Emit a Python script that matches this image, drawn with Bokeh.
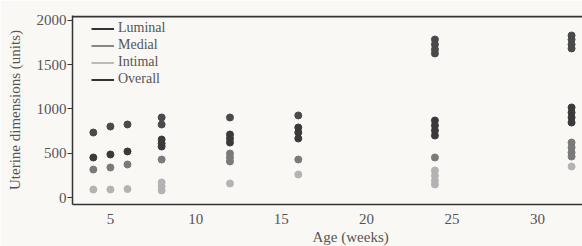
from bokeh.plotting import figure
from bokeh.models import Range1d, Legend, LegendItem, FixedTicker, Title
from bokeh.embed import file_html
from bokeh.resources import INLINE

# Data (age in weeks, dimension in units)
overall_age = [4, 5, 6, 8, 8, 12, 16, 24, 24, 24, 24, 32, 32, 32, 32]
overall_val = [734, 802, 825, 904, 825, 904, 927, 1785, 1729, 1672, 1627, 1830, 1785, 1729, 1684]
luminal_age = [4, 5, 6, 8, 8, 8, 12, 12, 12, 16, 16, 16, 24, 24, 24, 24, 32, 32, 32, 32]
luminal_val = [452, 486, 520, 655, 610, 576, 712, 667, 621, 791, 734, 667, 870, 814, 757, 700, 1017, 960, 904, 847]
medial_age = [4, 5, 6, 8, 12, 12, 12, 16, 24, 32, 32, 32, 32]
medial_val = [316, 339, 373, 429, 497, 452, 407, 429, 452, 621, 565, 508, 463]
intimal_age = [4, 5, 6, 8, 8, 8, 12, 16, 24, 24, 24, 24, 32]
intimal_val = [90, 90, 95, 170, 124, 80, 158, 260, 305, 249, 192, 147, 350]
x_ticks = [5, 10, 15, 20, 25, 30]
y_ticks = [0, 500, 1000, 1500, 2000]
y_top = 2056

FONT = "Liberation Serif"
BG = "#f9f8f5"
TXT = "#555555"

p = figure(width=582, height=246, output_backend="svg", toolbar_location=None,
           x_range=Range1d(2.78, 32.64), y_range=Range1d(-79, y_top),
           min_border_left=72, min_border_top=15, min_border_bottom=42, min_border_right=0)
p.background_fill_color = BG
p.border_fill_color = BG
p.outline_line_color = None
p.grid.visible = False

p.xaxis.ticker = FixedTicker(ticks=x_ticks)
p.yaxis.ticker = FixedTicker(ticks=y_ticks)
for ax in (p.xaxis, p.yaxis):
    ax.axis_line_color = "#333333"
    ax.axis_line_width = 1.5
    ax.major_label_text_font = FONT
    ax.major_label_text_font_size = "15px"
    ax.major_label_text_color = TXT
    ax.minor_tick_line_color = None
    ax.axis_label_text_font = FONT
    ax.axis_label_text_font_style = "normal"
    ax.axis_label_text_color = TXT
    ax.axis_label_text_font_size = "15px"
p.xaxis.major_tick_line_color = None
p.xaxis.major_label_standoff = 3
p.yaxis.major_tick_line_color = "#333333"
p.yaxis.major_tick_out = 5
p.yaxis.major_tick_in = 0
p.yaxis.major_label_standoff = 1
p.yaxis.axis_label = "Uterine dimensions (units)"
p.yaxis.axis_label_standoff = 11

# top frame line
p.hspan(y=[y_top - 14], line_color="#333333", line_width=2)

p.add_layout(Title(text="Age (weeks)", align="left", offset=240, text_font=FONT,
                   text_font_size="15px", text_font_style="normal", text_color=TXT,
                   standoff=0), "below")

r_ov = p.scatter(overall_age, overall_val, size=7, color="#4a4a4a")
r_lu = p.scatter(luminal_age, luminal_val, size=7, color="#3a3a3a")
r_me = p.scatter(medial_age, medial_val, size=7, color="#7a7a7a")
r_in = p.scatter(intimal_age, intimal_val, size=7, color="#b3b3b3")

l_lu = p.line([0, 0], [0, 0], line_color="#333333", line_width=2, visible=False)
l_me = p.line([0, 0], [0, 0], line_color="#888888", line_width=2, visible=False)
l_in = p.line([0, 0], [0, 0], line_color="#bbbbbb", line_width=2, visible=False)
l_ov = p.line([0, 0], [0, 0], line_color="#333333", line_width=2, visible=False)

legend = Legend(items=[LegendItem(label="Luminal", renderers=[l_lu]),
                       LegendItem(label="Medial", renderers=[l_me]),
                       LegendItem(label="Intimal", renderers=[l_in]),
                       LegendItem(label="Overall", renderers=[l_ov])],
                location=(19, 117), background_fill_alpha=0, border_line_color=None,
                label_text_font=FONT, label_text_font_size="14px", label_text_color=TXT,
                glyph_width=23, glyph_height=13, label_height=13, spacing=1,
                margin=0, padding=0, label_standoff=4)
p.add_layout(legend)

open("out.html", "w").write(file_html(p, INLINE))
